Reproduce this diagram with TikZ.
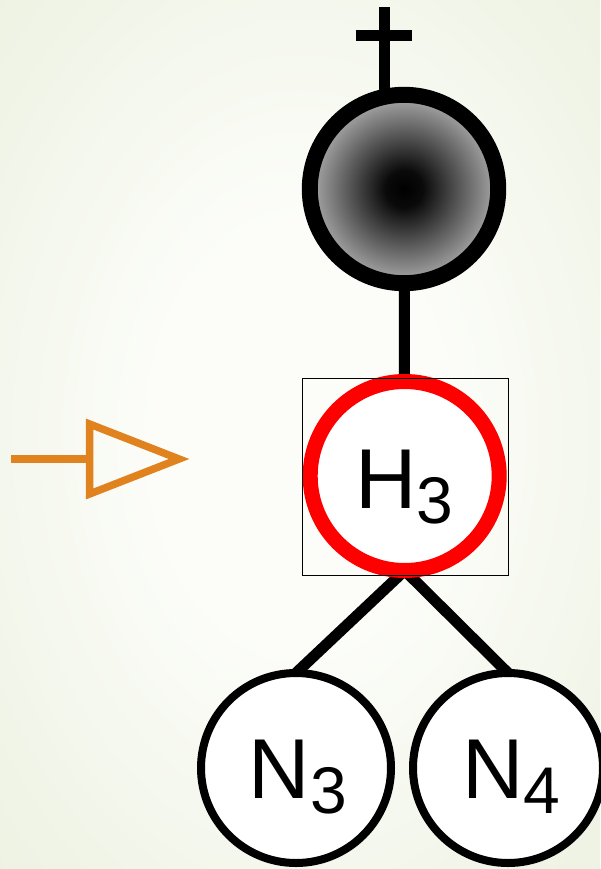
\documentclass[tikz,border=0pt]{standalone}
\usepackage{fontspec}
\setmainfont{Liberation Sans}
\pgfdeclarelayer{bg}
\pgfdeclarelayer{edges}
\pgfsetlayers{bg,edges,main}
\definecolor{arroworange}{RGB}{224,130,30}
\definecolor{bginner}{RGB}{252,253,249}
\definecolor{bgouter}{RGB}{237,242,226}
\pgfdeclareradialshading{ballshade}{\pgfpoint{0bp}{0bp}}{color(0bp)=(black); color(5bp)=(black!96); color(25bp)=(black!33); color(50bp)=(black!33)}
\pgfdeclareradialshading{bgshade}{\pgfpoint{0bp}{0bp}}{color(0bp)=(bginner); color(12bp)=(bginner); color(36bp)=(bgouter); color(50bp)=(bgouter)}
\newcommand\sublbl[2]{#1\raisebox{-15pt}{\fontsize{66}{66}\selectfont #2}}
\begin{document}
\begin{tikzpicture}[x=1pt,y=-1pt,
  thickline/.style={line width=11pt, line cap=butt},
  plainnode/.style={circle, draw, line width=8pt, minimum size=190pt, inner sep=0pt, outer sep=0pt, fill=white},
  bignum/.style={anchor=base west, inner sep=0pt, font=\fontsize{85}{85}\selectfont}]
\useasboundingbox (0,0) rectangle (600,869);
\begin{pgfonlayer}{bg}
  \shade[shading=bgshade] (0,0) rectangle (600,869);
\end{pgfonlayer}

% nodes
\node[circle, draw, line width=16pt, minimum size=188.4pt, inner sep=0pt, outer sep=0pt, shade, shading=ballshade] (ball) at (404,189) {};
\node[circle, draw=red, line width=15pt, minimum size=189pt, inner sep=0pt, outer sep=0pt, fill=white] (h3) at (404.7,476) {};
\node[draw, line width=1pt, minimum width=206pt, minimum height=196.7pt, inner sep=0pt, outer sep=0pt] (hbox) at (405,476.7) {};
\node[plainnode] (n3) at (296,768) {};
\node[plainnode] (n4) at (508,768) {};

\node[bignum] (h3label) at (355,508) {\sublbl{H}{3}};
\node[bignum] (n3label) at (248.5,798) {\sublbl{N}{3}};
\node[bignum] (n4label) at (461.8,798) {\sublbl{N}{4}};

% cross on top
\coordinate (crosstop) at (384,7);
\coordinate (crossfoot) at (384,120);
\coordinate (barL) at (355.7,35.5);
\coordinate (barR) at (412.3,35.5);

\begin{pgfonlayer}{edges}
  \draw[thickline] (crosstop) -- (crossfoot);
  \draw[thickline] (barL) -- (barR);
  \draw[thickline] (ball.center) -- (h3.center);
  \draw[thickline] (h3.south) -- (n3.north);
  \draw[thickline] (h3.south) -- (n4.north);
\end{pgfonlayer}

% orange pointer
\coordinate (ptail) at (11,459);
\coordinate (pbase) at (89.5,459);
\coordinate (ptop) at (89.5,424);
\coordinate (pbot) at (89.5,494);
\coordinate (ptip) at (179,459);
\draw[arroworange, line width=8pt] (ptail) -- (pbase);
\draw[arroworange, line width=7.5pt, line join=miter] (ptop) -- (ptip) -- (pbot) -- cycle;
\end{tikzpicture}
\end{document}
